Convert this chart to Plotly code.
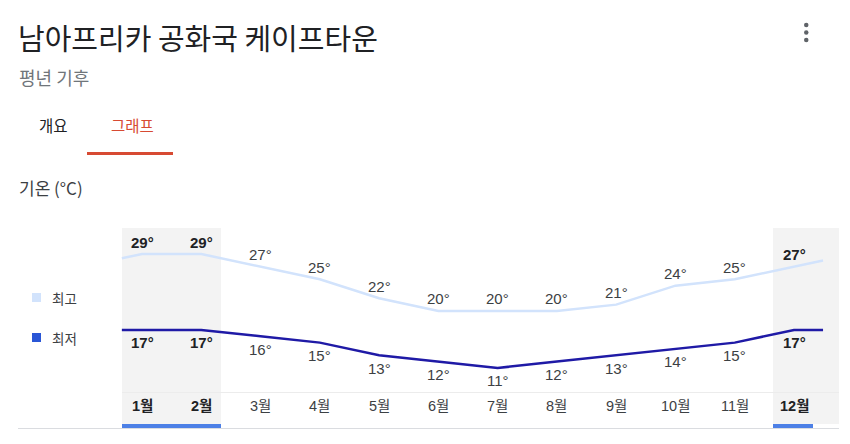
import numpy as np
import plotly.graph_objects as go

# ---- data ----
months = ["1월", "2월", "3월", "4월", "5월", "6월", "7월", "8월", "9월", "10월", "11월", "12월"]
high = [29, 29, 27, 25, 22, 20, 20, 20, 21, 24, 25, 27]
low = [17, 17, 16, 15, 13, 12, 11, 12, 13, 14, 15, 17]
highlighted = [1, 2, 12]
title_text = "남아프리카 공화국 케이프타운"
subtitle_text = "평년 기후"
tab_labels = ["개요", "그래프"]
section_text = "기온 (°C)"
legend_labels = ["최고", "최저"]

W, H = 850, 444
FONT = "Liberation Sans, Noto Sans CJK KR, sans-serif"
HFONT = "Noto Sans CJK KR, Liberation Sans, sans-serif"

# pixel -> axis mapping
X0_PX, STEP_PX = 142.0, (794.0 - 142.0) / 11
Y29_PX, DEG_PX = 254.0, 6.33
x_range = [1 + (0 - X0_PX) / STEP_PX, 1 + (W - X0_PX) / STEP_PX]
y_range = [29 - (H - Y29_PX) / DEG_PX, 29 + Y29_PX / DEG_PX]

def px(x):
    return x / W

def py(y):
    return 1 - y / H

xs = np.arange(1, 13)
left_ext, right_ext = 0.34, 0.49

def extended(vals):
    v = np.array(vals, dtype=float)
    wrapped_x = np.concatenate([[0], xs, [13]])
    wrapped_v = np.concatenate([[v[-1]], v, [v[0]]])
    ex = np.concatenate([[1 - left_ext], xs, [12 + right_ext]])
    return ex, np.interp(ex, wrapped_x, wrapped_v)

hx, hy = extended(high)
lx, ly = extended(low)

fig = go.Figure()
fig.add_trace(go.Scatter(x=hx, y=hy, mode="lines", line=dict(color="#d2e3fc", width=2.5),
                         hoverinfo="skip", showlegend=False))
fig.add_trace(go.Scatter(x=lx, y=ly, mode="lines", line=dict(color="#1f1aa6", width=2.5),
                         hoverinfo="skip", showlegend=False))

shapes = []
# shaded columns
for a, b in [(122, 221), (773, 839)]:
    shapes.append(dict(type="rect", xref="paper", yref="paper", x0=px(a), x1=px(b),
                       y0=py(424), y1=py(228), fillcolor="#f3f3f3", line=dict(width=0), layer="below"))
# separator lines
shapes.append(dict(type="line", xref="paper", yref="paper", x0=px(122), x1=px(839), y0=py(392.5), y1=py(392.5),
                   line=dict(color="#ececec", width=1)))
shapes.append(dict(type="line", xref="paper", yref="paper", x0=px(18), x1=px(839), y0=py(428.5), y1=py(428.5),
                   line=dict(color="#dadce0", width=1)))
# blue selection bars
for a, b in [(122, 221), (773, 813)]:
    shapes.append(dict(type="rect", xref="paper", yref="paper", x0=px(a), x1=px(b),
                       y0=py(428), y1=py(424), fillcolor="#4d80e6", line=dict(width=0)))
# tab underline
shapes.append(dict(type="rect", xref="paper", yref="paper", x0=px(87), x1=px(173),
                   y0=py(155), y1=py(152), fillcolor="#d74a33", line=dict(width=0)))
# legend squares
shapes.append(dict(type="rect", xref="paper", yref="paper", x0=px(32), x1=px(41),
                   y0=py(302), y1=py(293), fillcolor="#d2e3fc", line=dict(width=0)))
shapes.append(dict(type="rect", xref="paper", yref="paper", x0=px(32), x1=px(41),
                   y0=py(342), y1=py(333), fillcolor="#2a56d6", line=dict(width=0)))
# menu dots
for cy in [25, 32.5, 40]:
    shapes.append(dict(type="circle", xref="paper", yref="paper", x0=px(804), x1=px(808.5),
                       y0=py(cy + 2.25), y1=py(cy - 2.25), fillcolor="#5f6368", line=dict(width=0)))

ann = []
ann.append(dict(text=title_text, x=px(16), y=py(37), xref="paper", yref="paper", xanchor="left",
                yanchor="middle", showarrow=False, font=dict(family=HFONT, size=29, color="#202124")))
ann.append(dict(text=subtitle_text, x=px(17), y=py(77), xref="paper", yref="paper", xanchor="left",
                yanchor="middle", showarrow=False, font=dict(family=HFONT, size=18, color="#70757a")))
ann.append(dict(text=tab_labels[0], x=px(53), y=py(125), xref="paper", yref="paper", xanchor="center",
                yanchor="middle", showarrow=False, font=dict(family=HFONT, size=15.5, color="#202124")))
ann.append(dict(text=tab_labels[1], x=px(132), y=py(125), xref="paper", yref="paper", xanchor="center",
                yanchor="middle", showarrow=False, font=dict(family=HFONT, size=15.5, color="#d74a33")))
ann.append(dict(text=section_text, x=px(17), y=py(187), xref="paper", yref="paper", xanchor="left",
                yanchor="middle", showarrow=False, font=dict(family=HFONT, size=17, color="#3c4043")))
for lab, yy in zip(legend_labels, [298, 338]):
    ann.append(dict(text=lab, x=px(50), y=py(yy), xref="paper", yref="paper", xanchor="left",
                    yanchor="middle", showarrow=False, font=dict(family=HFONT, size=13.5, color="#3c4043")))

for i, m in enumerate(months):
    mi = i + 1
    bold = mi in highlighted
    col = "#202124" if bold else "#3c4043"
    def t(s):
        return f"<b>{s}</b>" if bold else s
    ann.append(dict(text=t(m), x=mi, y=py(406), xref="x", yref="paper", xanchor="center", yanchor="middle",
                    showarrow=False, font=dict(family=FONT, size=14.5, color=col)))
    ann.append(dict(text=t(f"{high[i]}°"), x=mi, y=high[i], xref="x", yref="y", xanchor="center",
                    yanchor="middle", yshift=12, showarrow=False, font=dict(family=FONT, size=15, color=col)))
    ann.append(dict(text=t(f"{low[i]}°"), x=mi, y=low[i], xref="x", yref="y", xanchor="center",
                    yanchor="middle", yshift=-13, showarrow=False, font=dict(family=FONT, size=15, color=col)))

fig.update_layout(
    width=W, height=H, margin=dict(l=0, r=0, t=0, b=0),
    paper_bgcolor="white", plot_bgcolor="rgba(0,0,0,0)",
    xaxis=dict(range=x_range, visible=False, fixedrange=True),
    yaxis=dict(range=y_range, visible=False, fixedrange=True),
    shapes=shapes, annotations=ann, showlegend=False,
)
fig.write_html("out.html", config={"displayModeBar": False})
